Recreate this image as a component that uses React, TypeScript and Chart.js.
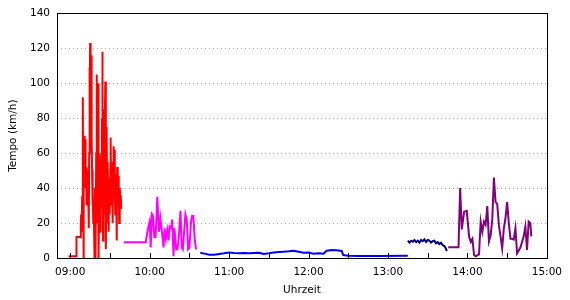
import React, { useEffect, useRef } from "react";
import { Chart, registerables } from "chart.js";

Chart.register(...registerables);

// time in minutes since midnight, speed in km/h
const redTime = [538.7, 544.5, 544.7, 547.5, 548.0, 548.25, 548.6, 549, 549.5, 549.8, 550, 550.3, 550.5, 550.9, 551.25, 551.6, 552, 552.3, 552.5, 552.9, 553.3, 553.6, 554, 554.3, 554.5, 554.8, 555, 555.3, 555.5, 555.8, 556, 556.3, 556.5, 556.8, 557, 557.4, 557.8, 558.0, 558.2, 558.5, 558.75, 559.0, 559.2, 559.6, 560, 560.3, 560.5, 560.8, 561, 561.3, 561.5, 561.8, 562, 562.3, 562.5, 562.8, 563, 563.4, 563.75, 564.0, 564.2, 564.5, 564.75, 565.0, 565.25, 565.5, 565.75, 566.1, 566.5, 566.8, 567, 567.3, 567.5, 567.8, 568, 568.3, 568.5, 568.8, 569, 569.3, 569.5, 569.8, 570, 570.3, 570.5, 570.8, 571, 571.3, 571.5, 571.8, 572, 572.3, 572.5, 572.8, 573, 573.3, 573.5, 573.8, 574, 574.3, 574.5, 574.8, 575, 575.3, 575.5, 575.8, 576, 576.3, 576.5, 576.8, 577, 577.3, 577.5, 577.8, 578, 578.3, 578.5];
const redSpeed = [1, 1, 12, 12, 20, 25, 15, 35, 92, 30, 0, 50, 70, 40, 68, 45, 48, 30, 52, 40, 50, 35, 17, 60, 109, 80, 123, 90, 60, 100, 116, 70, 50, 30, 40, 20, 33, 15, 0, 25, 40, 20, 0, 60, 105, 50, 20, 70, 100, 40, 0, 30, 45, 60, 15, 40, 58, 45, 30, 80, 118, 50, 10, 60, 85, 40, 25, 70, 101, 40, 5, 50, 75, 40, 20, 45, 55, 30, 15, 40, 45, 35, 25, 50, 69, 45, 30, 50, 55, 40, 20, 45, 64, 45, 35, 50, 62, 40, 25, 40, 48, 30, 10, 40, 52, 40, 30, 45, 47, 35, 20, 35, 40, 35, 30, 36, 28];

const magentaTime = [580.5, 597, 598.75, 600, 600.75, 601.75, 602.5, 603.5, 604.5, 605.75, 607, 608, 609.25, 610.5, 611.25, 612.25, 613.25, 614.25, 615, 616.25, 617, 618, 618.75, 620, 621, 622, 623.25, 624.25, 625, 626, 627, 628, 629, 630, 631.25, 632, 633, 634, 635];
const magentaSpeed = [9, 9, 17, 21, 6, 25, 24, 12, 12, 35, 15, 23, 15, 6, 17, 11, 16, 10, 18, 17, 22, 1, 17, 5, 5, 12, 27, 6, 5, 15, 25, 22, 5, 6, 21, 24, 24, 11, 5];

const blueTime = [638.25, 641.25, 645, 648.75, 652.5, 656.25, 660, 663.75, 667.5, 671.25, 675, 678.75, 682.5, 686.25, 690, 693.75, 697.5, 701.25, 705, 708.75, 712.5, 716.25, 720, 723.75, 727.5, 731.25, 733.75, 737.5, 741.25, 745, 746.25, 750, 757.5, 772.5, 795];
const blueSpeed = [3.0, 2.5, 1.9, 1.9, 2.3, 2.7, 3.2, 2.9, 2.7, 2.9, 2.7, 2.9, 3.0, 2.3, 2.7, 3.2, 3.4, 3.6, 3.8, 4.2, 3.6, 3.0, 3.2, 2.5, 2.7, 2.5, 4.2, 4.6, 4.4, 4.0, 1.7, 1.3, 1.1, 1.1, 1.3];

const navyTime = [795, 796.25, 797.5, 798.75, 800, 801.25, 802.5, 803.75, 805, 806.25, 807.5, 808.75, 810, 811.25, 812.5, 813.75, 815, 816.25, 817.5, 818.75, 820, 821.25, 822.5, 823.25, 824.5];
const navySpeed = [9.9, 8.8, 9.9, 9.3, 10.3, 9.1, 9.9, 8.8, 10.3, 9.6, 10.6, 9.1, 10.3, 9.9, 8.8, 9.6, 9.9, 8.4, 9.1, 8.0, 8.8, 7.4, 6.8, 6.1, 4.0];

const purpleTime = [825.5, 833.25, 834.5, 835.75, 837.5, 839.5, 841.25, 842.5, 843.75, 845, 846.25, 848.75, 850, 851.25, 852.5, 853.75, 855, 856.25, 857.5, 858.75, 860, 861.25, 862.5, 863.75, 865, 866.25, 867.5, 868.75, 870, 871.25, 872.5, 873.75, 875, 876.25, 877.5, 880, 882.5, 883.75, 885, 886.25, 887.5, 888.25];
const purpleSpeed = [6.1, 6.1, 40, 16.4, 26.5, 27, 12.2, 9.3, 11, 1.7, 1, 2, 20.8, 15, 20.8, 19, 29.7, 9.5, 13, 22, 46, 32, 31, 19, 12.4, 5.5, 17, 23, 32, 20, 11, 11, 10.6, 17, 2.7, 6, 12.4, 18, 4.6, 20.8, 20, 12.4];

const tickMinutes = [540, 570, 600, 630, 660, 690, 720, 750, 780, 810, 840, 870, 900];
const hourLabels = ["09:00", "10:00", "11:00", "12:00", "13:00", "14:00", "15:00"];

const toPoints = (t: number[], v: number[]) => t.map((x, i) => ({ x, y: v[i] }));

const FONT = "'DejaVu Sans', Verdana, sans-serif";

export default function App() {
  const ref = useRef<HTMLCanvasElement | null>(null);
  useEffect(() => {
    document.body.style.margin = "0";
    const canvas = ref.current!;
    const framePlugin = {
      id: "frame",
      afterDraw(chart: any) {
        const { ctx, chartArea } = chart;
        const xs = chart.scales.x;
        ctx.save();
        ctx.strokeStyle = "#000";
        ctx.lineWidth = 1;
        ctx.setLineDash([]);
        ctx.beginPath();
        for (const m of tickMinutes) {
          const px = Math.round(xs.getPixelForValue(m)) + 0.5;
          ctx.moveTo(px, chartArea.bottom);
          ctx.lineTo(px, chartArea.bottom - 5);
        }
        ctx.stroke();
        ctx.strokeRect(
          Math.round(chartArea.left) + 0.5,
          Math.round(chartArea.top) + 0.5,
          Math.round(chartArea.right - chartArea.left),
          Math.round(chartArea.bottom - chartArea.top)
        );
        ctx.restore();
      },
    };
    const mk = (label: string, t: number[], v: number[], color: string) => ({
      label,
      data: toPoints(t, v),
      borderColor: color,
      backgroundColor: color,
      borderWidth: 2,
      pointRadius: 0,
      tension: 0,
      fill: false,
    });
    const chart = new Chart(canvas, {
      type: "line",
      data: {
        datasets: [
          mk("A", redTime, redSpeed, "#ff0000"),
          mk("B", magentaTime, magentaSpeed, "#ff00ff"),
          mk("C", blueTime, blueSpeed, "#0000ff"),
          mk("D", navyTime, navySpeed, "#000080"),
          mk("E", purpleTime, purpleSpeed, "#800080"),
        ],
      },
      options: {
        responsive: false,
        animation: false,
        layout: { padding: { left: 0, top: 13, right: 21, bottom: 0 } },
        plugins: { legend: { display: false }, tooltip: { enabled: false } },
        scales: {
          x: {
            type: "linear",
            min: 530,
            max: 900,
            afterFit: (s: any) => {
              s.height = 42;
            },
            afterBuildTicks: (s: any) => {
              s.ticks = tickMinutes.map((value) => ({ value }));
            },
            border: { display: false },
            grid: { display: false, drawTicks: false },
            ticks: {
              autoSkip: false,
              maxRotation: 0,
              padding: 8,
              color: "#000",
              font: { family: FONT, size: 10.5 },
              callback: (v: any) => {
                const m = Number(v);
                if (m % 60 !== 0) return "";
                return hourLabels[(m - 540) / 60] ?? "";
              },
            },
            title: {
              display: true,
              text: "Uhrzeit",
              color: "#000",
              font: { family: FONT, size: 10.5 },
              padding: { top: 0, bottom: 3.5 },
            },
          },
          y: {
            min: 0,
            max: 140,
            afterFit: (s: any) => {
              s.width = 57;
            },
            border: { display: false, dash: [1, 3] },
            grid: {
              drawTicks: false,
              color: "#a8a8a8",
              lineWidth: 1,
            },
            ticks: {
              stepSize: 20,
              padding: 7,
              color: "#000",
              font: { family: FONT, size: 10.5 },
            },
            title: {
              display: true,
              text: "Tempo (km/h)",
              color: "#000",
              font: { family: FONT, size: 10.5 },
              padding: { top: 6.5, bottom: 0 },
            },
          },
        },
      } as any,
      plugins: [framePlugin],
    });
    return () => chart.destroy();
  }, []);
  return (
    <div style={{ width: 570, height: 300 }}>
      <canvas ref={ref} width={570} height={300} />
    </div>
  );
}
